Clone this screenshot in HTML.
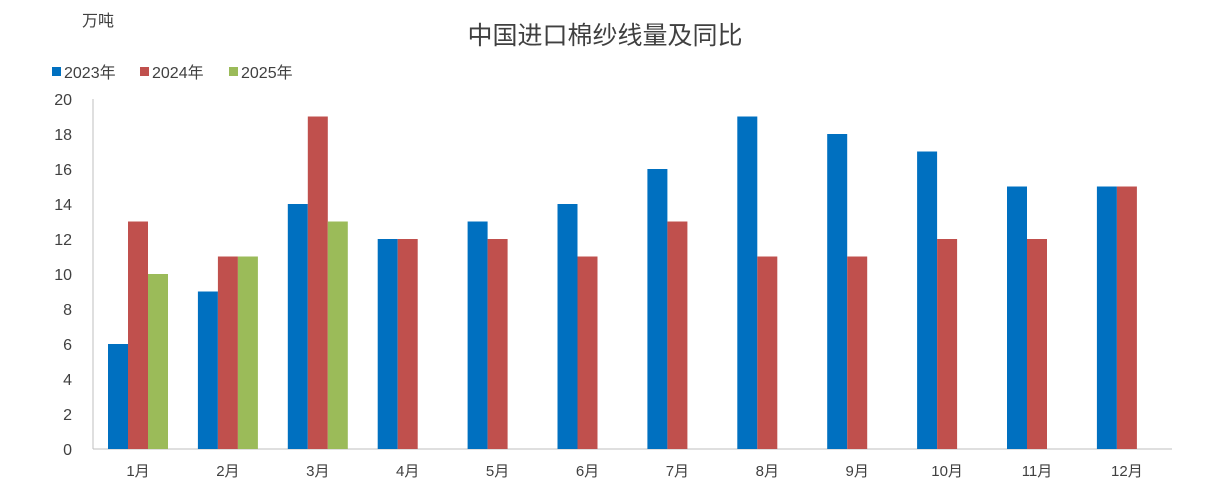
<!DOCTYPE html>
<html><head><meta charset="utf-8"><style>
body{margin:0;background:#fff;}
svg{display:block;font-family:"Liberation Sans","Noto Sans CJK SC",sans-serif;}
</style></head><body>
<svg width="1210" height="493" xmlns="http://www.w3.org/2000/svg">
<rect width="1210" height="493" fill="#fff"/>
<text x="82" y="26" font-size="16" fill="#404040">万吨</text>
<text x="605" y="44" font-size="25" fill="#404040" text-anchor="middle">中国进口棉纱线量及同比</text>
<g font-size="16" fill="#404040">
<rect x="52" y="67" width="9" height="9" fill="#0070C0"/><text x="64" y="78">2023年</text>
<rect x="140" y="67" width="9" height="9" fill="#C0504D"/><text x="152" y="78">2024年</text>
<rect x="229" y="67" width="9" height="9" fill="#9BBB59"/><text x="241" y="78">2025年</text>
</g>
<line x1="93" y1="99" x2="93" y2="449" stroke="#bfbfbf"/>
<line x1="93" y1="449" x2="1172" y2="449" stroke="#bfbfbf"/>
<g font-size="16" fill="#404040" text-anchor="end" id="yl"></g>
<g id="bars"></g>
<g font-size="15" fill="#404040" text-anchor="middle" id="xl"></g>
<script>
var s="http://www.w3.org/2000/svg";
var yl=document.getElementById('yl'),bars=document.getElementById('bars'),xl=document.getElementById('xl');
for(var v=0;v<=20;v+=2){var t=document.createElementNS(s,'text');t.setAttribute('x',72);t.setAttribute('y',449-v*17.5+6);t.textContent=v;yl.appendChild(t);}
var d23=[6,9,14,12,13,14,16,19,18,17,15,15],d24=[13,11,19,12,12,11,13,11,11,12,12,15],d25=[10,11,13];
function bar(x,v,c){var r=document.createElementNS(s,'rect');r.setAttribute('x',x);r.setAttribute('y',449-v*17.5);r.setAttribute('width',20);r.setAttribute('height',v*17.5);r.setAttribute('fill',c);bars.appendChild(r);}
for(var i=0;i<12;i++){var c=93+45+i*89.9;
bar(c-30,d23[i],'#0070C0');bar(c-10,d24[i],'#C0504D');if(i<3)bar(c+10,d25[i],'#9BBB59');
var t=document.createElementNS(s,'text');t.setAttribute('x',c);t.setAttribute('y',476);t.textContent=(i+1)+'月';xl.appendChild(t);}
</script>
</svg>
</body></html>
